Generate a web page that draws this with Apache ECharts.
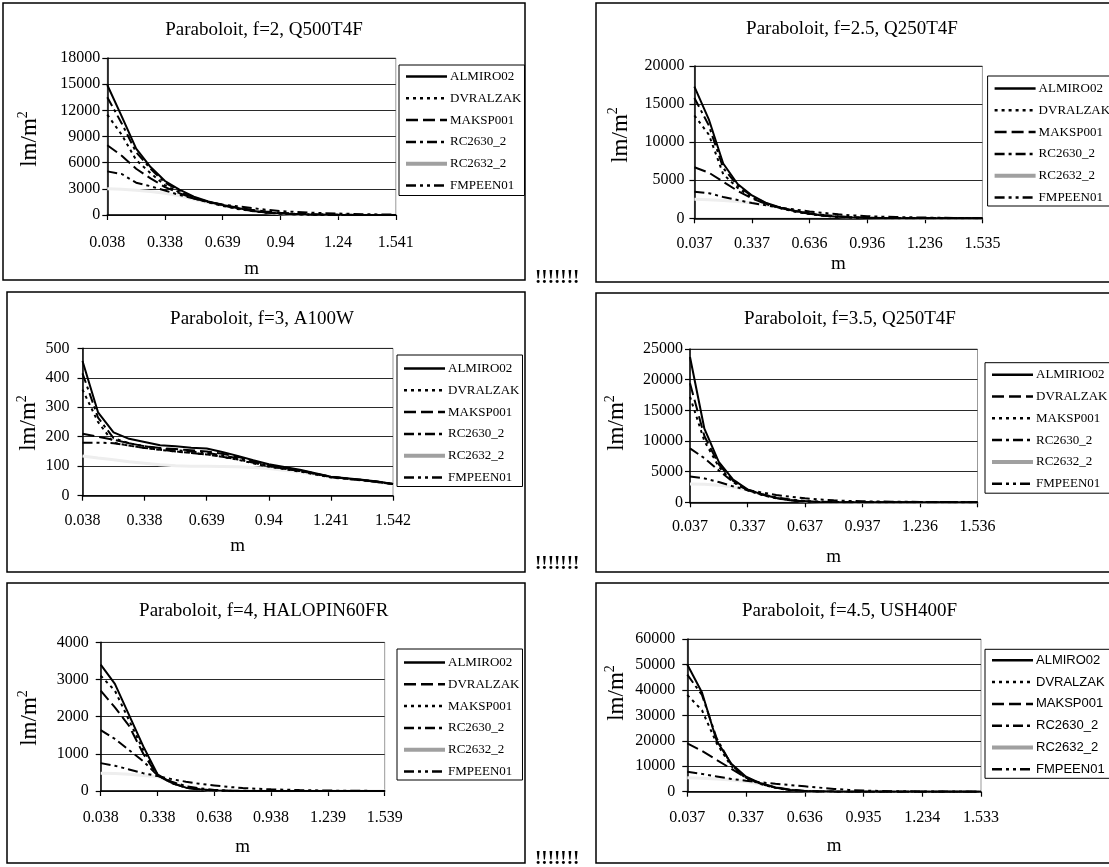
<!DOCTYPE html>
<html><head><meta charset="utf-8">
<script src="https://cdn.jsdelivr.net/npm/echarts@6/dist/echarts.min.js"></script>
<style>html,body{margin:0;padding:0;background:#fff}#c{width:1109px;height:867px}</style>
</head><body><div id="c"></div>
<script>
// ---------- DATA ----------
const titles = ['Paraboloit, f=2, Q500T4F','Paraboloit, f=2.5, Q250T4F','Paraboloit, f=3, A100W',
                'Paraboloit, f=3.5, Q250T4F','Paraboloit, f=4, HALOPIN60FR','Paraboloit, f=4.5, USH400F'];
const legendNames  = ['ALMIRO02','DVRALZAK','MAKSP001','RC2630_2','RC2632_2','FMPEEN01'];
const legendNames4 = ['ALMIRIO02','DVRALZAK','MAKSP001','RC2630_2','RC2632_2','FMPEEN01'];
const yMax  = [18000, 20000, 500, 25000, 4000, 60000];
const yStep = [3000, 5000, 100, 5000, 1000, 10000];
const xAxisName = 'm';

const x1 = [0.038,0.113,0.188,0.263,0.338,0.413,0.488,0.564,0.639,0.714,0.789,0.864,0.94,1.015,1.09,1.165,1.24,1.316,1.391,1.466,1.541];
const x2 = [0.037,0.112,0.187,0.262,0.337,0.412,0.487,0.561,0.636,0.711,0.786,0.861,0.936,1.011,1.086,1.161,1.236,1.31,1.385,1.46,1.535];
const x3 = [0.038,0.113,0.188,0.263,0.338,0.413,0.489,0.564,0.639,0.714,0.789,0.865,0.94,1.015,1.09,1.166,1.241,1.316,1.391,1.467,1.542];
const x4 = [0.037,0.112,0.187,0.262,0.337,0.412,0.487,0.562,0.637,0.712,0.787,0.862,0.937,1.011,1.086,1.161,1.236,1.311,1.386,1.461,1.536];
const x5 = [0.038,0.113,0.188,0.263,0.338,0.413,0.488,0.563,0.638,0.713,0.788,0.863,0.938,1.014,1.089,1.164,1.239,1.314,1.389,1.464,1.539];
const x6 = [0.037,0.112,0.187,0.262,0.337,0.412,0.486,0.561,0.636,0.711,0.786,0.86,0.935,1.01,1.085,1.16,1.234,1.309,1.384,1.459,1.533];

// chart 1 (f=2)
const c1_ALMIRO02 = [14900,11300,7600,5500,3900,2900,2100,1550,1150,800,500,300,180,100,50,30,15,10,5,0,0];
const c1_DVRALZAK = [11500,9200,6300,4800,3400,2600,1900,1450,1050,700,450,270,150,80,40,20,10,5,0,0,0];
const c1_MAKSP001 = [8000,6800,5300,4200,3200,2500,1900,1500,1150,850,600,400,250,150,90,50,30,15,5,0,0];
const c1_RC2630_2 = [13500,10500,7200,5300,3700,2800,2000,1500,1100,750,480,280,160,90,45,25,10,5,0,0,0];
const c1_RC2632_2 = [3000,2950,2850,2700,2500,2200,1800,1400,1100,800,500,300,150,80,40,20,10,5,0,0,0];
const c1_FMPEEN01 = [5000,4700,3700,3300,2800,2300,1900,1500,1200,1000,800,600,450,350,280,220,170,120,90,60,40];
// chart 2 (f=2.5)
const c2_ALMIRO02 = [17300,13000,7200,4500,3000,2000,1400,950,600,350,200,100,50,25,10,5,0,0,0,0,0];
const c2_DVRALZAK = [13500,11000,5800,4000,2700,1850,1300,870,560,330,180,90,45,20,10,5,0,0,0,0,0];
const c2_MAKSP001 = [6700,6000,4800,3600,2600,1900,1350,950,650,420,260,150,80,40,20,10,5,0,0,0,0];
const c2_RC2630_2 = [15800,12200,6600,4300,2900,1950,1350,900,580,340,190,100,50,25,10,5,0,0,0,0,0];
const c2_RC2632_2 = [2500,2450,2350,2200,2000,1700,1350,1000,700,450,250,130,60,30,10,5,0,0,0,0,0];
const c2_FMPEEN01 = [3500,3300,2800,2400,2000,1700,1400,1150,900,700,520,380,280,220,170,130,100,70,50,30,20];
// chart 3 (f=3)
const c3_ALMIRO02 = [457,283,215,193,182,171,168,163,160,148,135,120,107,97,88,76,64,59,54,48,40];
const c3_DVRALZAK = [360,250,180,170,162,155,150,145,140,132,122,110,98,90,82,72,62,57,52,46,40];
const c3_MAKSP001 = [210,200,190,178,168,162,158,154,150,142,132,118,104,94,86,75,64,58,53,47,40];
const c3_RC2630_2 = [415,265,195,178,168,160,155,150,145,137,127,114,101,92,84,74,63,58,53,47,40];
const c3_RC2632_2 = [135,128,122,115,110,105,102,100,100,99,98,96,92,86,80,72,64,58,52,46,40];
const c3_FMPEEN01 = [180,180,178,170,162,156,150,145,140,132,123,112,100,92,84,74,64,58,53,47,40];
// chart 4 (f=3.5)
const c4_ALMIRIO02 = [23700,12000,6600,3700,2100,1300,700,350,150,60,20,10,0,0,0,0,0,0,0,0,0];
const c4_DVRALZAK = [19400,10800,6200,3500,2000,1250,680,340,150,60,20,10,0,0,0,0,0,0,0,0,0];
const c4_MAKSP001 = [17200,10000,5800,3300,1950,1200,650,320,140,55,20,10,0,0,0,0,0,0,0,0,0];
const c4_RC2630_2 = [8800,7200,5200,3300,2000,1300,800,450,220,100,40,15,5,0,0,0,0,0,0,0,0];
const c4_RC2632_2 = [3000,2950,2800,2500,2000,1400,800,400,150,60,20,5,0,0,0,0,0,0,0,0,0];
const c4_FMPEEN01 = [4200,3900,3300,2600,2000,1600,1200,900,650,450,320,230,170,130,100,80,60,45,30,20,10];
// chart 5 (f=4)
const c5_ALMIRO02 = [3400,2880,2040,1200,450,220,90,40,15,5,0,0,0,0,0,0,0,0,0,0,0];
const c5_DVRALZAK = [2700,2250,1750,1000,420,210,90,40,15,5,0,0,0,0,0,0,0,0,0,0,0];
const c5_MAKSP001 = [3100,2700,1900,1100,440,215,90,40,15,5,0,0,0,0,0,0,0,0,0,0,0];
const c5_RC2630_2 = [1640,1400,1100,800,420,250,130,70,30,10,5,0,0,0,0,0,0,0,0,0,0];
const c5_RC2632_2 = [480,470,450,420,380,250,120,50,20,5,0,0,0,0,0,0,0,0,0,0,0];
const c5_FMPEEN01 = [750,680,580,480,400,320,250,190,150,110,80,60,45,35,25,18,12,8,5,3,2];
// chart 6 (f=4.5)
const c6_ALMIRO02 = [50000,39000,20000,11000,5900,3300,1700,700,250,80,30,10,0,0,0,0,0,0,0,0,0];
const c6_DVRALZAK = [38000,32000,19000,10000,5300,3000,1500,600,220,70,25,10,0,0,0,0,0,0,0,0,0];
const c6_MAKSP001 = [19000,16000,12500,9000,5500,3200,1700,800,300,100,40,15,5,0,0,0,0,0,0,0,0];
const c6_RC2630_2 = [46000,38000,21000,10500,5600,3100,1600,650,230,70,25,10,0,0,0,0,0,0,0,0,0];
const c6_RC2632_2 = [5500,5300,5000,4600,4000,3000,1800,900,350,100,30,10,0,0,0,0,0,0,0,0,0];
const c6_FMPEEN01 = [7800,7000,6000,5000,4300,3700,3100,2600,2100,1600,1100,700,450,300,200,150,100,70,50,30,20];

const xCats = [x1,x2,x3,x4,x5,x6];
const values = [
  [c1_ALMIRO02,c1_DVRALZAK,c1_MAKSP001,c1_RC2630_2,c1_RC2632_2,c1_FMPEEN01],
  [c2_ALMIRO02,c2_DVRALZAK,c2_MAKSP001,c2_RC2630_2,c2_RC2632_2,c2_FMPEEN01],
  [c3_ALMIRO02,c3_DVRALZAK,c3_MAKSP001,c3_RC2630_2,c3_RC2632_2,c3_FMPEEN01],
  [c4_ALMIRIO02,c4_DVRALZAK,c4_MAKSP001,c4_RC2630_2,c4_RC2632_2,c4_FMPEEN01],
  [c5_ALMIRO02,c5_DVRALZAK,c5_MAKSP001,c5_RC2630_2,c5_RC2632_2,c5_FMPEEN01],
  [c6_ALMIRO02,c6_DVRALZAK,c6_MAKSP001,c6_RC2630_2,c6_RC2632_2,c6_FMPEEN01]
];
const names = [legendNames,legendNames,legendNames,legendNames4,legendNames,legendNames];

// ---------- STYLE / LAYOUT ----------
const SERIF = 'Liberation Serif', SANS = 'Liberation Sans';
const SOLID='solid', DOT=[3,4], LONG=[12,5], DDOT=[10,4,3,4], DDOT2=[10,4,3,4,3,4];
const dashA = [SOLID, DOT, LONG, DDOT, null, DDOT2];
const dashB = [SOLID, LONG, DOT, DDOT, null, DDOT2];
const dashes = [dashA, dashA, dashA, dashB, dashB, dashA];
const layout = [
 {grid:[107.3,58,288.5,157],   title:[264,30],    leg:[399,65],    legPad:[5,3,3.5,5], yMargin:7,  yName:[30,139],  xLab:244,   mY:270,   panel:[3,3,522,277]},
 {grid:[694.4,66,288,152.3],   title:[852,29],    leg:[987.6,76],  legPad:[6,30,2,5],  yMargin:10, yName:[620.5,135],xLab:245,  mY:265,   panel:[596,3,600,279]},
 {grid:[82.5,348.3,310.5,147.4],title:[262,319],  leg:[397,355],   legPad:[7,3,2.5,5], yMargin:13, yName:[29,423],  xLab:521.7, mY:546.7, panel:[7,292,518,280]},
 {grid:[690,349,287.5,153.3],  title:[850,319],   leg:[985,362.7], legPad:[5.5,30,3,5],yMargin:7,  yName:[617,423], xLab:528,   mY:558,   panel:[596,293,600,279]},
 {grid:[100.7,642.3,284,148.7],title:[263.7,611], leg:[397,649],   legPad:[7,3,2,5],   yMargin:12, yName:[30,718],  xLab:818.3, mY:848,   panel:[7,583,518,280]},
 {grid:[687.3,639,293.7,152.7],title:[849.5,611], leg:[985,649.3], legPad:[4.5,30,2.5,5],yMargin:12,yName:[617,693], xLab:818.3, mY:846.7, panel:[596,583,600,280]}
];

const grid=[], xAxis=[], yAxis=[], series=[], legend=[], title=[], graphic=[];
layout.forEach((L, i) => {
  const [gl, gt, gw, gh] = L.grid;
  grid.push({left:gl, top:gt, width:gw, height:gh, show:true, borderColor:'#999', borderWidth:1, containLabel:false});
  const xFont = 16;
  xAxis.push({type:'category', gridIndex:i, data:xCats[i], boundaryGap:false,
    name:xAxisName, nameLocation:'middle', nameGap:(L.mY - (gt+gh)) - 10,
    nameTextStyle:{fontFamily:SERIF, fontSize:19, color:'#000'},
    axisLine:{lineStyle:{color:'#000', width:1.5}},
    axisTick:{show:true, interval:3, length:5, lineStyle:{color:'#000', width:1.2}},
    axisLabel:{interval:3, margin:(L.xLab - (gt+gh)) - xFont/2 - 1, fontFamily:SERIF, fontSize:xFont, color:'#000'},
    splitLine:{show:false}});
  yAxis.push({type:'value', gridIndex:i, min:0, max:yMax[i], interval:yStep[i],
    axisLine:{show:true, lineStyle:{color:'#000', width:1.5}},
    axisTick:{show:true, length:5, lineStyle:{color:'#000', width:1.2}},
    axisLabel:{margin:L.yMargin, fontFamily:SERIF, fontSize:16, color:'#000', formatter:(v) => String(v)},
    splitLine:{show:true, lineStyle:{color:'#2a2a2a', width:1}}});
  const legData = [];
  names[i].forEach((n, k) => {
    const sname = (i+1) + '|' + n;
    const gray = dashes[i][k] === null;
    series.push({type:'line', name:sname, xAxisIndex:i, yAxisIndex:i, data:values[i][k],
      symbol:'none', silent:true, z: gray ? 2 : 3,
      lineStyle: gray ? {color:'#eeeeee', width:3, type:'solid'} : {color:'#000', width:2, type:dashes[i][k]}});
    legData.push(gray ? {name:sname, lineStyle:{color:'#a0a0a0', width:4}} : {name:sname});
  });
  legend.push({orient:'vertical', left:L.leg[0], top:L.leg[1], padding:L.legPad,
    itemWidth:41, itemHeight:14, itemGap:8.8, selectedMode:false,
    borderColor:'#000', borderWidth:1, backgroundColor:'#fff',
    itemStyle:{opacity:0}, lineStyle:{width:2.5},
    textStyle:{fontFamily: i===5 ? SANS : SERIF, fontSize:13, color:'#000', padding:[0,0,0,-2]},
    formatter:(n) => n.split('|')[1], data:legData});
  title.push({text:titles[i], left:L.title[0], top:L.title[1], textAlign:'center', textVerticalAlign:'middle', padding:0,
    textStyle:{fontFamily:SERIF, fontSize:19, fontWeight:'normal', color:'#000'}});
  const [px, py, pw, ph] = L.panel;
  graphic.push({type:'rect', silent:true, z:-1, shape:{x:px, y:py, width:pw, height:ph},
    style:{fill:'none', stroke:'#000', lineWidth:1.5}});
  graphic.push({type:'text', silent:true, x:L.yName[0], y:L.yName[1], rotation:Math.PI/2,
    style:{text:'{b|lm/m}{s|2}', align:'center', verticalAlign:'middle',
      rich:{b:{fontFamily:SERIF, fontSize:23, lineHeight:28, fill:'#000'},
            s:{fontFamily:SERIF, fontSize:14, lineHeight:14, verticalAlign:'top', fill:'#000'}}}});
});
[278, 564, 859].forEach(y => {
  graphic.push({type:'text', silent:true, x:535, y:y,
    style:{text:'!!!!!!!', fontFamily:SERIF, fontSize:19, fontWeight:'bold', fill:'#000', align:'left', verticalAlign:'middle'}});
});

const chart = echarts.init(document.getElementById('c'), null, {renderer:'canvas'});
chart.setOption({animation:false, backgroundColor:'#fff', title, grid, xAxis, yAxis, legend, series, graphic});
</script></body></html>
